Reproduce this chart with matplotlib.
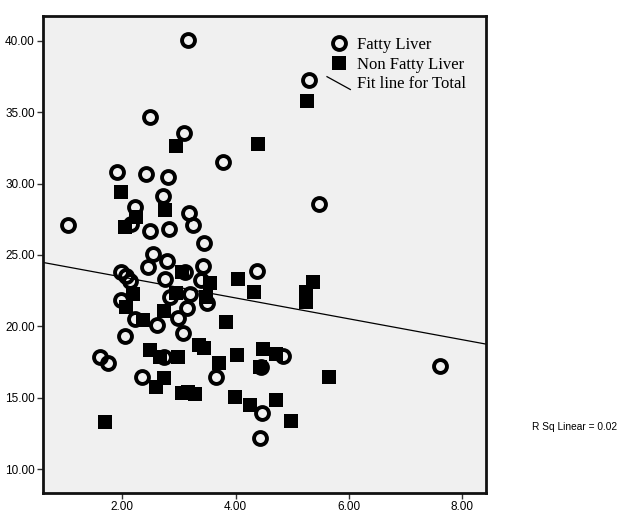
import numpy as np
import matplotlib
matplotlib.use("Agg")
import matplotlib.pyplot as plt
from matplotlib.lines import Line2D
from matplotlib.legend_handler import HandlerBase

# ---- data ----
fatty_x = [3.16, 5.30, 2.48, 3.09, 1.91, 3.78, 2.41, 2.81, 2.71, 2.23,
           3.18, 5.47, 1.05, 2.16, 2.48, 3.24, 2.83, 3.45, 2.55, 2.79,
           2.46, 3.43, 4.38, 1.98, 2.07, 2.14, 2.76, 3.39, 3.11, 1.98,
           2.85, 3.20, 3.50, 3.15, 2.23, 2.99, 2.62, 2.05, 3.08, 1.61,
           1.75, 2.74, 4.84, 4.45, 3.66, 2.34, 4.47, 4.43, 7.61]
fatty_y = [40.06, 37.26, 34.67, 33.55, 30.81, 31.51, 30.67, 30.46, 29.13, 28.36,
           27.94, 28.57, 27.10, 27.17, 26.68, 27.10, 26.82, 25.84, 25.07, 24.58,
           24.16, 24.23, 23.88, 23.81, 23.52, 23.17, 23.31, 23.24, 23.81, 21.84,
           22.05, 22.26, 21.63, 21.28, 20.51, 20.58, 20.09, 19.32, 19.53, 17.85,
           17.43, 17.85, 17.92, 17.15, 16.45, 16.45, 13.92, 12.17, 17.22]

nonfatty_x = [2.94, 4.40, 5.26, 1.97, 2.76, 2.25, 2.04, 3.06, 4.05, 4.33,
              3.55, 2.94, 2.18, 2.07, 3.48, 2.74, 2.37, 3.83, 2.48, 3.36,
              3.45, 4.03, 4.49, 4.72, 2.67, 2.99, 3.71, 4.43, 2.74, 2.60,
              3.06, 3.16, 3.29, 3.99, 4.26, 4.72, 4.98, 1.70, 5.37, 5.25,
              5.25, 5.65]
nonfatty_y = [32.63, 32.78, 35.79, 29.41, 28.15, 27.66, 26.96, 23.81, 23.31, 22.40,
              23.03, 22.33, 22.26, 21.35, 22.05, 21.07, 20.44, 20.30, 18.34, 18.69,
              18.48, 17.99, 18.41, 18.06, 17.85, 17.85, 17.43, 17.15, 16.38, 15.75,
              15.33, 15.40, 15.26, 15.05, 14.48, 14.84, 13.36, 13.29, 23.10, 22.40,
              21.70, 16.45]

x_ticks = [2, 4, 6, 8]
x_tick_labels = ["2.00", "4.00", "6.00", "8.00"]
y_ticks = [10, 15, 20, 25, 30, 35, 40]
y_tick_labels = ["10.00", "15.00", "20.00", "25.00", "30.00", "35.00", "40.00"]
legend_labels = ["Fatty Liver", "Non Fatty Liver", "Fit line for Total"]
r2_text = "R Sq Linear = 0.02"

# ---- figure ----
fig = plt.figure(figsize=(6.19, 5.14), dpi=100)
ax = fig.add_axes([43 / 619, 1 - 493 / 514, (486 - 43) / 619, (493 - 16) / 514])
ax.set_facecolor("#f0f0f0")

ax.plot(fatty_x, fatty_y, linestyle="none", marker="o", ms=9.3, mew=2.8,
        mfc="none", mec="black", zorder=3)
ax.plot(nonfatty_x, nonfatty_y, linestyle="none", marker="s", ms=9.5,
        mfc="black", mec="black", mew=0, zorder=3)

xlim = (0.6, 8.42)
ylim = (8.32, 41.75)
all_x = np.array(fatty_x + nonfatty_x)
all_y = np.array(fatty_y + nonfatty_y)
slope, intercept = np.polyfit(all_x, all_y, 1)
xx = np.array(xlim)
ax.plot(xx, intercept + slope * xx, color="black", lw=0.9, zorder=2)

ax.set_xlim(*xlim)
ax.set_ylim(*ylim)
ax.set_xticks(x_ticks)
ax.set_xticklabels(x_tick_labels)
ax.set_yticks(y_ticks)
ax.set_yticklabels(y_tick_labels)
for lab in ax.get_xticklabels() + ax.get_yticklabels():
    lab.set_fontfamily("Liberation Sans")
    lab.set_fontsize(8.5)
ax.tick_params(direction="out", length=4, width=1, color="#333333", pad=2)
for s in ax.spines.values():
    s.set_linewidth(2.0)
    s.set_color("#111111")


class DiagHandler(HandlerBase):
    def create_artists(self, legend, orig_handle, xdescent, ydescent,
                       width, height, fontsize, trans):
        l = Line2D([-xdescent, -xdescent + width],
                   [-ydescent + height * 1.0, -ydescent - height * 0.1],
                   color="black", lw=0.9, transform=trans)
        return [l]


h1 = Line2D([], [], linestyle="none", marker="o", ms=9.3, mew=2.8, mfc="none", mec="black")
h2 = Line2D([], [], linestyle="none", marker="s", ms=9.5, mfc="black", mec="black", mew=0)
h3 = Line2D([], [], color="black", lw=0.9)
leg = ax.legend([h1, h2, h3], legend_labels, loc="upper left",
                bbox_to_anchor=((327 - 43) / 443, 1 - (37 - 16) / 477),
                frameon=False, prop={"family": "Liberation Serif", "size": 12},
                handlelength=1.4, handletextpad=0.4, labelspacing=0.22,
                borderaxespad=0, borderpad=0,
                handler_map={h3: DiagHandler()})

fig.text(617 / 619, 1 - 427 / 514, r2_text, fontsize=7.3, family="Liberation Sans",
         va="center", ha="right")

fig.savefig("out.png", dpi=100, facecolor="white")
